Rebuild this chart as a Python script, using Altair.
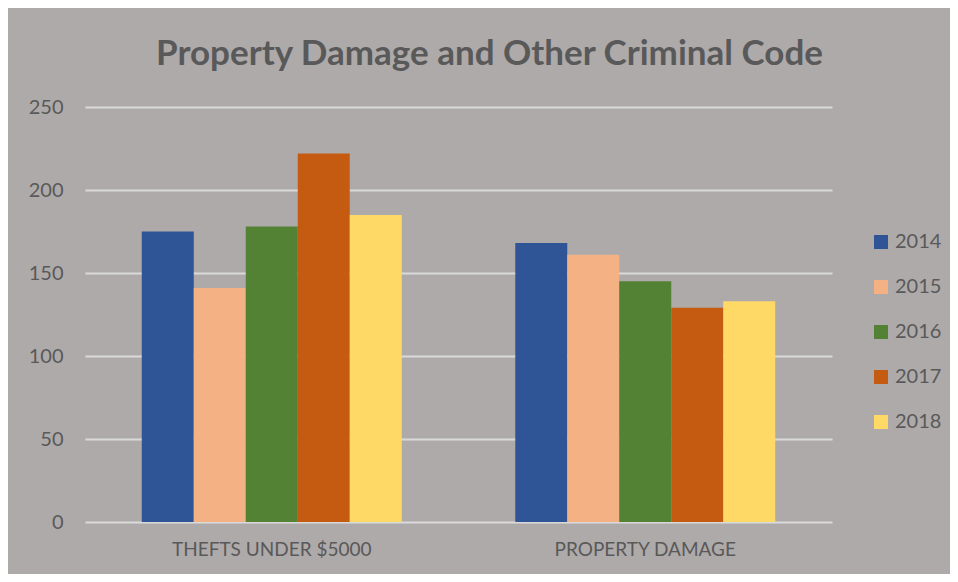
import altair as alt
import pandas as pd

categories = ["THEFTS UNDER $5000", "PROPERTY DAMAGE"]
years = ["2014", "2015", "2016", "2017", "2018"]
thefts = [175, 141, 178, 222, 185]
damage = [168, 161, 145, 129, 133]
colors = ["#2F5597", "#F4B183", "#548235", "#C55A11", "#FFD966"]
y_ticks = [0, 50, 100, 150, 200, 250]

rows = []
for cat, vals in zip(categories, [thefts, damage]):
    for yr, v in zip(years, vals):
        rows.append({"category": cat, "year": yr, "value": v})
df = pd.DataFrame(rows)

TEXT = "#595959"
FONT = "Lato"

chart = alt.Chart(df).mark_bar(strokeWidth=0).encode(
    x=alt.X(
        "category:N", sort=categories, title=None,
        scale=alt.Scale(paddingInner=0.304, paddingOuter=0.152),
        axis=alt.Axis(labelAngle=0, labelFont=FONT, labelFontSize=19, labelColor=TEXT,
                      labelPadding=18, labelLimit=0, ticks=False, domain=False, grid=False),
    ),
    xOffset=alt.XOffset("year:N", sort=years, scale=alt.Scale(paddingInner=0, paddingOuter=0)),
    y=alt.Y(
        "value:Q", title=None, scale=alt.Scale(domain=[0, 250]),
        axis=alt.Axis(values=y_ticks, labelFont=FONT, labelFontSize=20, labelColor=TEXT,
                      labelPadding=22, ticks=False, domain=False, grid=True,
                      gridColor="#D9D9D9", gridWidth=2),
    ),
    color=alt.Color(
        "year:N", sort=years, scale=alt.Scale(domain=years, range=colors),
        legend=alt.Legend(title=None, orient="none", legendX=786, legendY=125,
                          symbolType="square", symbolSize=196, symbolStrokeWidth=0,
                          labelFont=FONT, labelFontSize=20, labelColor=TEXT,
                          rowPadding=25, labelOffset=4),
    ),
).properties(
    width=747,
    height=415,
    autosize=alt.AutoSizeParams(type="none"),
    padding={"left": 77, "top": 99, "right": 118, "bottom": 52},
    title=alt.TitleParams("Property Damage and Other Criminal Code", font=FONT, fontSize=35,
                          fontWeight="bold", color=TEXT, anchor="middle", dx=31, offset=25),
).configure(background="#AEAAAA").configure_view(stroke=None)

chart.save("out.html", embed_options={"renderer": "svg", "actions": False})
